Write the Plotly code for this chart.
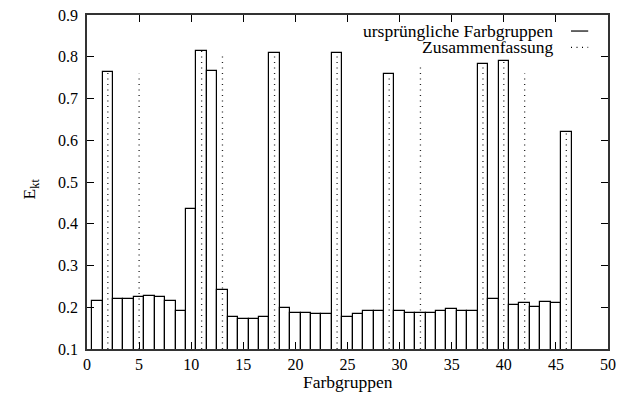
import plotly.graph_objects as go

# Data
groups = list(range(1, 47))
e_kt = [0.216, 0.763, 0.220, 0.220, 0.224, 0.228, 0.224, 0.216, 0.191, 0.436,
        0.814, 0.767, 0.241, 0.177, 0.173, 0.173, 0.177, 0.810, 0.198, 0.187,
        0.187, 0.184, 0.184, 0.810, 0.176, 0.184, 0.191, 0.191, 0.759, 0.191,
        0.187, 0.187, 0.187, 0.191, 0.195, 0.191, 0.191, 0.782, 0.220, 0.791,
        0.205, 0.209, 0.201, 0.213, 0.209, 0.619]
merged_x = [2, 5, 11, 13, 18, 24, 29, 32, 38, 40, 42, 46]
merged_y = [0.763, 0.759, 0.814, 0.803, 0.810, 0.810, 0.759, 0.774, 0.782, 0.791, 0.760, 0.619]
x_ticks = [0, 5, 10, 15, 20, 25, 30, 35, 40, 45, 50]
y_ticks = [0.1, 0.2, 0.3, 0.4, 0.5, 0.6, 0.7, 0.8, 0.9]
legend_labels = ["ursprüngliche Farbgruppen", "Zusammenfassung"]

FONT = "Liberation Serif, Times New Roman, serif"
DOT = "1px,4.5px"

fig = go.Figure()
fig.add_trace(go.Bar(
    x=groups, y=e_kt, width=1.0,
    marker=dict(color="white", line=dict(color="black", width=1.2)),
    showlegend=False,
))

ix, iy = [], []
for xv, yv in zip(merged_x, merged_y):
    ix += [xv, xv, None]
    iy += [y_ticks[0], yv, None]
fig.add_trace(go.Scatter(
    x=ix, y=iy, mode="lines",
    line=dict(color="#222222", width=1.3, dash=DOT),
    showlegend=False, hoverinfo="skip",
))

axis_common = dict(
    showgrid=False, zeroline=False, showline=True, linecolor="#333333", linewidth=1.5,
    mirror="ticks", ticks="inside", ticklen=7, tickwidth=1.2, tickcolor="black",
    automargin=False,
    tickfont=dict(family=FONT, size=16, color="black"),
)
fig.update_xaxes(range=[x_ticks[0], x_ticks[-1]], tickvals=x_ticks,
                 ticktext=[str(v) for v in x_ticks], ticklabelstandoff=0, **axis_common)
fig.update_yaxes(range=[y_ticks[0], y_ticks[-1]], tickvals=y_ticks,
                 ticktext=[f"{v:.1f}" for v in y_ticks], ticklabelstandoff=4, **axis_common)

# Axis titles
fig.add_annotation(text="Farbgruppen", xref="paper", yref="paper", x=0.5, y=-0.099,
                   xanchor="center", yanchor="middle", showarrow=False,
                   font=dict(family=FONT, size=17.5, color="black"))
fig.add_annotation(text="E<sub>kt</sub>", xref="paper", yref="paper", x=-0.108, y=0.48,
                   xanchor="center", yanchor="middle", showarrow=False, textangle=-90,
                   font=dict(family=FONT, size=17.5, color="black"))

# Legend (gnuplot style: text right-aligned, sample on the right)
rows = [0.952, 0.903]
dashes = ["solid", DOT]
for lab, ry, ds in zip(legend_labels, rows, dashes):
    fig.add_annotation(text=lab, xref="paper", yref="paper", x=0.898, y=ry,
                       xanchor="right", yanchor="middle", showarrow=False,
                       font=dict(family=FONT, size=17.5, color="black"))
    fig.add_shape(type="line", xref="paper", yref="paper", x0=0.929, x1=0.962,
                  y0=ry, y1=ry, line=dict(color="black", width=1.2, dash=ds))

fig.update_layout(
    width=618, height=411,
    font=dict(family=FONT),
    margin=dict(l=87, r=10, t=15, b=62),
    plot_bgcolor="white", paper_bgcolor="white",
    bargap=0,
)
fig.write_html("out.html")
